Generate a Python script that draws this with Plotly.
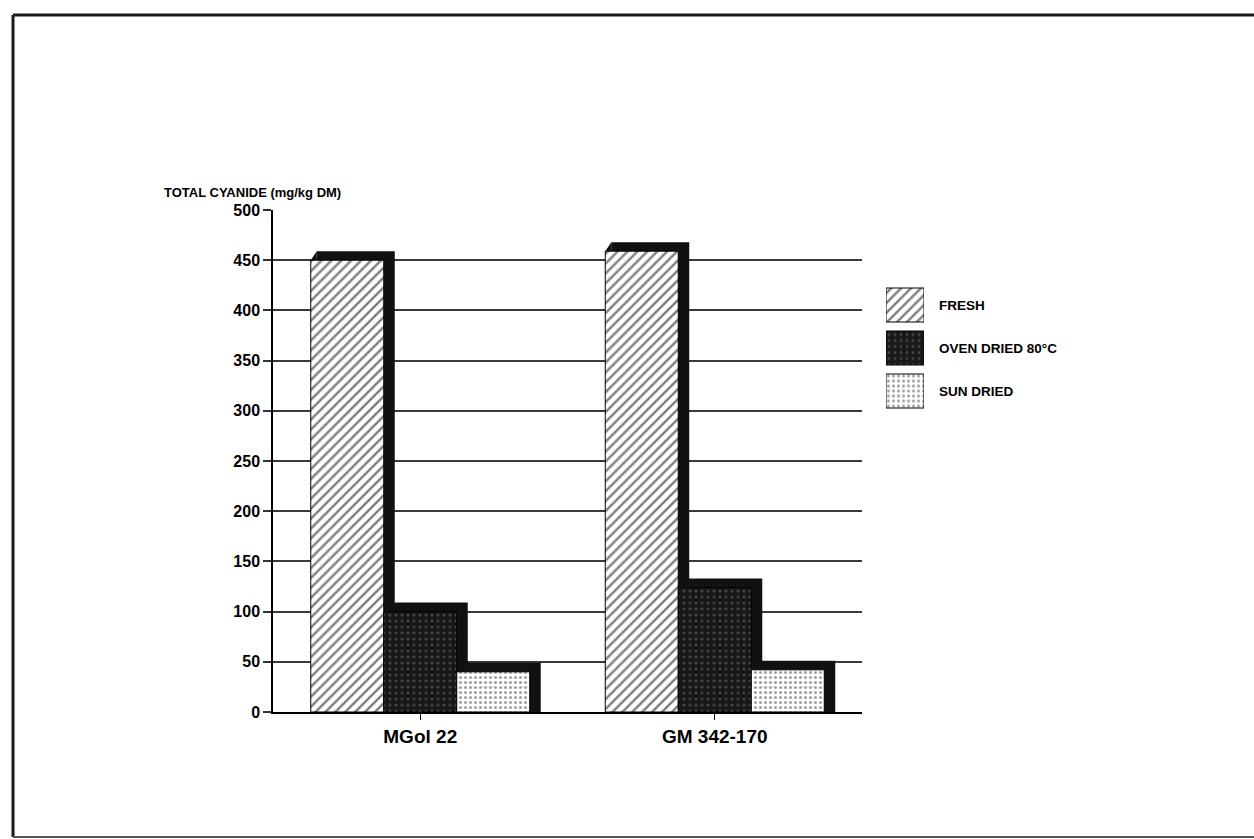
import plotly.graph_objects as go

# ---- data -------------------------------------------------------------
varieties = ["MGol 22", "GM 342-170"]
series_names = ["FRESH", "OVEN DRIED 80°C", "SUN DRIED"]
fresh = [450, 459]
oven_dried = [100, 124]
sun_dried = [40, 42]
y_ticks = [0, 50, 100, 150, 200, 250, 300, 350, 400, 450, 500]

series_values = [fresh, oven_dried, sun_dried]

# ---- geometry (figure pixels) ----------------------------------------
W, H = 1254, 839
PLOT_L, PLOT_R = 273, 862
PLOT_T, PLOT_B = 210, 712
px_per_cat = (PLOT_R - PLOT_L) / len(varieties)
px_per_unit = (PLOT_B - PLOT_T) / 500.0

bar_w = 73 / px_per_cat
offsets = [-1.5 * bar_w, -0.5 * bar_w, 0.5 * bar_w]
side_dx = 11 / px_per_cat      # width of the dark side face
top_dx = 6 / px_per_cat        # where the dark top face starts
depth = 9 / px_per_unit        # height of the dark top face

patterns = [
    dict(shape="/", bgcolor="white", fgcolor="black", size=7, solidity=0.35),
    dict(shape=".", bgcolor="#181818", fgcolor="#707070", size=6, solidity=0.2),
    dict(shape=".", bgcolor="white", fgcolor="#444444", size=5, solidity=0.3),
]
shadow_color = "#111111"

fig = go.Figure()

xs = list(range(len(varieties)))
for i, (name, vals, pat) in enumerate(zip(series_names, series_values, patterns)):
    # dark block giving the raised (3-D) look
    fig.add_trace(go.Bar(
        x=xs, y=[v + depth for v in vals], base=0,
        offset=offsets[i] + top_dx, width=bar_w - top_dx + side_dx,
        marker=dict(color=shadow_color, line=dict(width=0)),
        showlegend=False, hoverinfo="skip",
    ))
    # patterned front face
    fig.add_trace(go.Bar(
        x=xs, y=vals, base=0, name=name,
        offset=offsets[i], width=bar_w,
        marker=dict(color=pat["bgcolor"], pattern=pat,
                    line=dict(color="black", width=1)),
        showlegend=False,
    ))

# bevelled top-left corners of the dark blocks
for i, vals in enumerate(series_values):
    for xi, v in zip(xs, vals):
        xl = xi + offsets[i]
        fig.add_trace(go.Scatter(
            x=[xl, xl + top_dx, xl + top_dx, xl],
            y=[v, v + depth, v, v],
            fill="toself", fillcolor=shadow_color, mode="lines",
            line=dict(width=0, color=shadow_color),
            showlegend=False, hoverinfo="skip",
        ))

# ---- legend swatches drawn on their own small axes --------------------
LEG_X0, LEG_X1 = 886, 924
ROW_PITCH = 43
LEG_TOP = 305 - ROW_PITCH / 2
LEG_BOT = LEG_TOP + ROW_PITCH * len(series_names)
swatch_h = 34 / ROW_PITCH
label_font = dict(family="Arial", size=13.5, color="black", weight="bold")
for i, (name, pat) in enumerate(zip(series_names, patterns)):
    row_base = len(series_names) - 1 - i + (1 - swatch_h) / 2
    fig.add_trace(go.Bar(
        x=[0.5], y=[swatch_h], base=[row_base], width=1,
        marker=dict(color=pat["bgcolor"], pattern=pat,
                    line=dict(color="black", width=1)),
        xaxis="x2", yaxis="y2", showlegend=False, hoverinfo="skip",
    ))
    fig.add_annotation(
        x=937 / W, y=1 - (LEG_TOP + ROW_PITCH * (i + 0.5)) / H,
        xref="paper", yref="paper", xanchor="left", yanchor="middle",
        text=name, showarrow=False, font=label_font,
    )

fig.add_annotation(
    x=162 / W, y=1 - 193 / H, xref="paper", yref="paper",
    xanchor="left", yanchor="middle", showarrow=False,
    text="TOTAL CYANIDE (mg/kg DM)",
    font=dict(family="Arial", size=13, color="black", weight="bold"),
)

# outer frame of the figure
frame = dict(color="#1a1a1a", width=3)
fig.add_shape(type="line", xref="paper", yref="paper",
              x0=13 / W, x1=1.0, y0=1 - 15 / H, y1=1 - 15 / H, line=frame)
fig.add_shape(type="line", xref="paper", yref="paper",
              x0=13 / W, x1=13 / W, y0=1 - 15 / H, y1=1 - 837 / H, line=frame)
fig.add_shape(type="line", xref="paper", yref="paper",
              x0=13 / W, x1=1.0, y0=1 - 837 / H, y1=1 - 837 / H,
              line=dict(color="#555555", width=2))

y_tick_font = dict(family="Arial", size=16, color="black", weight="bold")
x_tick_font = dict(family="Arial", size=19, color="black", weight="bold")

fig.update_layout(
    width=W, height=H,
    margin=dict(l=0, r=0, t=0, b=0, autoexpand=False),
    paper_bgcolor="white", plot_bgcolor="white",
    barmode="overlay",
    showlegend=False,
    xaxis=dict(
        domain=[PLOT_L / W, PLOT_R / W],
        range=[-0.5, len(varieties) - 0.5],
        tickmode="array", tickvals=xs, ticktext=varieties,
        showline=True, linecolor="black", linewidth=1.5,
        ticks="outside", ticklen=6, tickcolor="black", tickwidth=1,
        showgrid=False, zeroline=False, tickfont=x_tick_font,
        automargin=False,
    ),
    yaxis=dict(
        domain=[1 - PLOT_B / H, 1 - PLOT_T / H],
        range=[0, 500],
        tickvals=y_ticks,
        showline=True, linecolor="black", linewidth=1.5,
        ticks="outside", ticklen=8, tickcolor="#333333", tickwidth=1.5,
        showgrid=True, gridcolor="#3a3a3a", gridwidth=1.5,
        zeroline=False, tickfont=y_tick_font, automargin=False,
    ),
    xaxis2=dict(domain=[LEG_X0 / W, LEG_X1 / W], range=[0, 1], anchor="y2",
                visible=False, fixedrange=True),
    yaxis2=dict(domain=[1 - LEG_BOT / H, 1 - LEG_TOP / H],
                range=[0, len(series_names)], anchor="x2",
                visible=False, fixedrange=True),
)

fig.write_html("out.html")
